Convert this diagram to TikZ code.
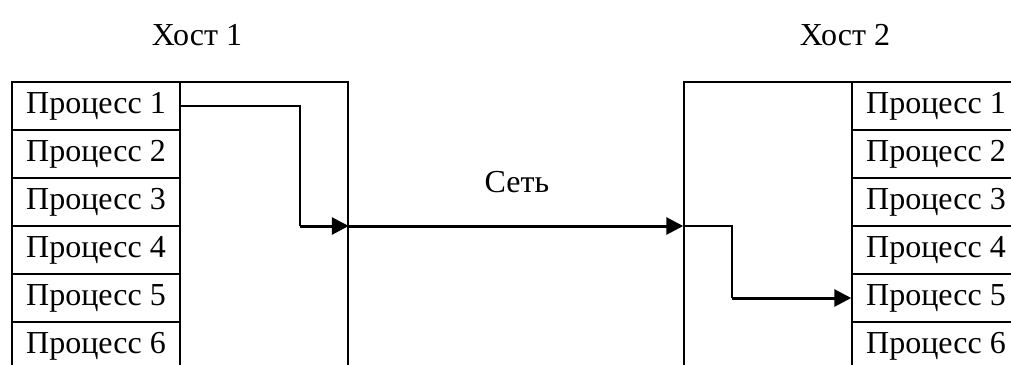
\documentclass[tikz,border=0pt]{standalone}
\usepackage{fontspec}
\setmainfont{Liberation Serif}
\usetikzlibrary{arrows.meta}

\tikzset{
  proc/.style={draw, line width=1.5pt, minimum width=168pt, minimum height=48pt, inner sep=0pt},
  host/.style={draw, line width=1.5pt, minimum width=336pt, minimum height=288pt},
  wire/.style={line width=1.5pt},
  link/.style={line width=3pt, -{Triangle[length=17pt,width=17pt]}}
}

\begin{document}
\begin{tikzpicture}[x=1pt,y=-1pt,font=\fontsize{32}{36}\selectfont]
\useasboundingbox (0,0) rectangle (1011,364);
\clip (0,0) rectangle (1011,364);
\node[host] (hostA) at (180,226) {};
\node[host] (hostB) at (852,226) {};
\foreach \i in {1,...,6} {
  \node[proc] (pA\i) at (96,{58+48*\i}) {Процесс \i};
  \node[proc] (pB\i) at (936,{58+48*\i}) {Процесс \i};
}
\node (titleA) at (197,35) {Хост 1};
\node (titleB) at (845,35) {Хост 2};
\node (net) at (517,182) {Сеть};
\coordinate (dropA) at (300,226);
\coordinate (dropB) at (732,298);
\draw[wire] (pA1.east) -| (dropA);
\draw[link] (dropA) -- (hostA.east);
\draw[link] (hostA.east) -- (hostB.west);
\draw[wire] (hostB.west) -| (dropB);
\draw[link] (dropB) -- (pB5.west);
\end{tikzpicture}
\end{document}
